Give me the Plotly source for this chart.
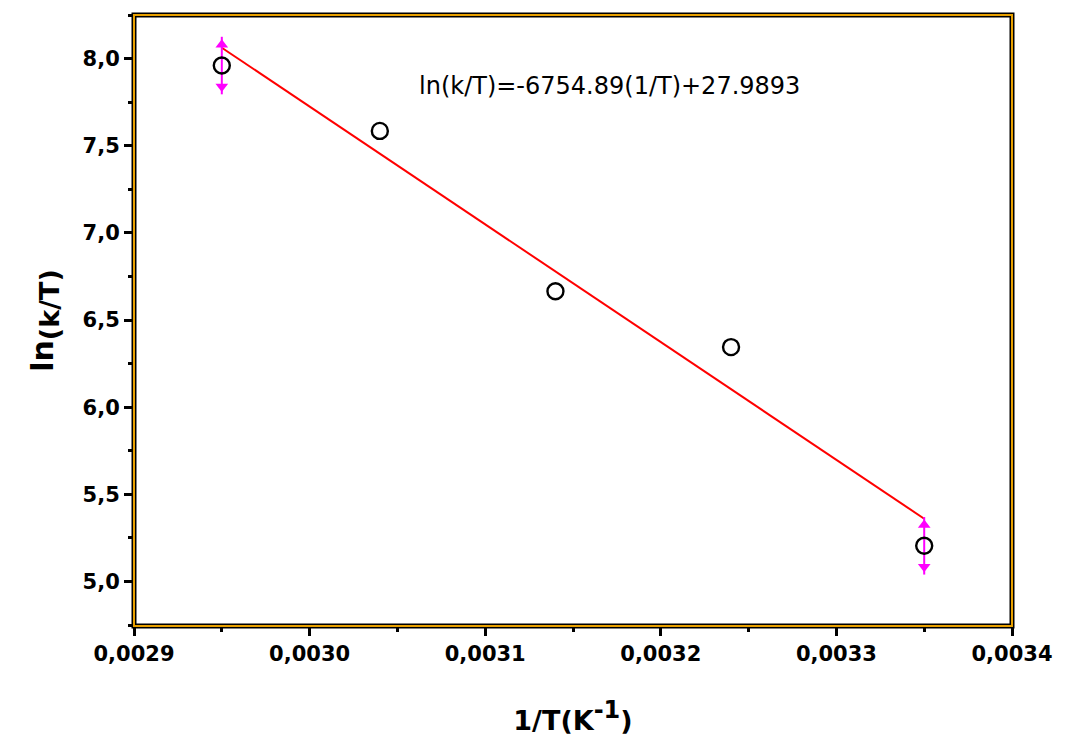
import plotly.graph_objects as go

inv_T = [0.00295, 0.00304, 0.00314, 0.00324, 0.00335]
ln_kT = [7.96, 7.585, 6.665, 6.345, 5.205]
slope = -6754.89
intercept = 27.9893
fit_x = [0.00295, 0.00335]
handle_half = 0.165

fig = go.Figure()

fit_y = [slope * x + intercept for x in fit_x]
fig.add_trace(go.Scatter(x=fit_x, y=fit_y, mode="lines",
                         line=dict(color="#ff0000", width=2), hoverinfo="skip"))

# magenta handles at first and last points
for xi, yi in [(inv_T[0], ln_kT[0]), (inv_T[-1], ln_kT[-1])]:
    fig.add_trace(go.Scatter(
        x=[xi, xi], y=[yi + handle_half, yi - handle_half],
        mode="lines", line=dict(color="#ff00ff", width=2), hoverinfo="skip"))
    fig.add_trace(go.Scatter(
        x=[xi, xi], y=[yi + handle_half - 0.045, yi - handle_half + 0.045],
        mode="markers", marker=dict(symbol=["triangle-up", "triangle-down"], size=11, color="#ff00ff"),
        hoverinfo="skip"))

fig.add_trace(go.Scatter(x=inv_T, y=ln_kT, mode="markers",
                         marker=dict(symbol="circle-open", size=16, color="black",
                                     line=dict(width=2.4, color="black"))))

tf = dict(family="DejaVu Sans", size=21, color="black", weight="bold")

fig.update_layout(
    width=1067, height=751,
    margin=dict(l=134, r=55, t=15, b=125),
    paper_bgcolor="white", plot_bgcolor="white",
    showlegend=False,
    separators=", ",
    font=dict(family="DejaVu Sans", color="black"),
    xaxis=dict(range=[0.0029, 0.0034], tickvals=[0.0029, 0.0030, 0.0031, 0.0032, 0.0033, 0.0034],
               tickformat=".4f", ticks="outside", ticklen=9, tickwidth=3, tickcolor="black",
               minor=dict(tickvals=[0.00295, 0.00305, 0.00315, 0.00325, 0.00335], ticks="outside",
                          ticklen=5, tickwidth=3, tickcolor="black"),
               showgrid=False, zeroline=False, showline=False,
               tickfont=tf,
               title=dict(text="<b>1/T(K<sup><span style='font-size:24px'>-1</span></sup>)</b>",
                          font=dict(family="DejaVu Sans", size=27),
                          standoff=45)),
    yaxis=dict(range=[4.745, 8.25], tickvals=[5.0, 5.5, 6.0, 6.5, 7.0, 7.5, 8.0],
               tickformat=".1f", ticks="outside", ticklen=9, tickwidth=3, tickcolor="black",
               minor=dict(tickvals=[4.75, 5.25, 5.75, 6.25, 6.75, 7.25, 7.75, 8.25], ticks="outside",
                          ticklen=5, tickwidth=3, tickcolor="black"),
               showgrid=False, zeroline=False, showline=False,
               tickfont=tf,
               title=dict(text="<b>ln<sub><span style='font-size:27px'>(k/T)</span></sub></b>",
                          font=dict(family="DejaVu Sans", size=30),
                          standoff=20)),
    annotations=[dict(x=0.003061, y=7.845, xref="x", yref="y", xanchor="left", yanchor="middle",
                      text="ln(k/T)=-6754.89(1/T)+27.9893", showarrow=False,
                      font=dict(family="DejaVu Sans", size=24, color="black"))],
    shapes=[
        dict(type="rect", xref="paper", yref="paper", x0=0, y0=0, x1=1, y1=1,
             line=dict(color="black", width=5), layer="above"),
        dict(type="rect", xref="paper", yref="paper", x0=0, y0=0, x1=1, y1=1,
             line=dict(color="#e8a000", width=2), layer="above"),
    ],
)

fig.write_html("out.html")
